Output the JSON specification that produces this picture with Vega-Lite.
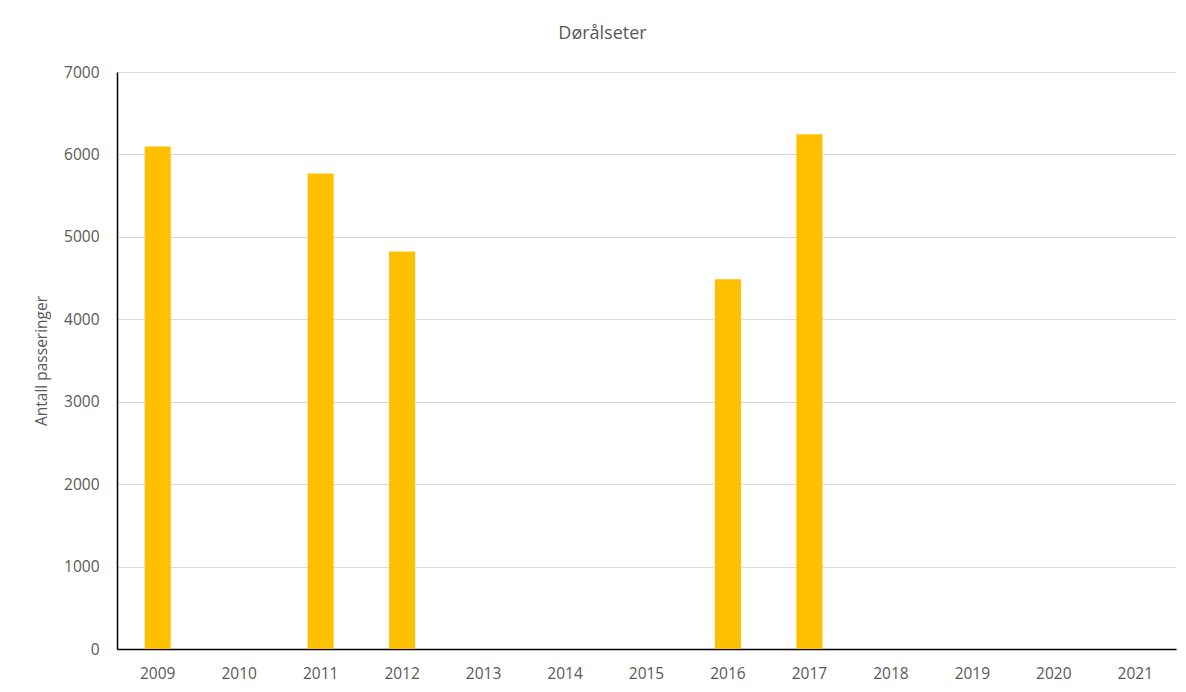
{
  "$schema": "https://vega.github.io/schema/vega-lite/v6.json",
  "autosize": "none",
  "width": 1059,
  "height": 577,
  "padding": {"left": 117, "top": 72, "right": 10, "bottom": 43},
  "background": "white",
  "title": {
    "text": "Dørålseter",
    "font": "Open Sans",
    "fontSize": 18,
    "fontWeight": "normal",
    "color": "#595959",
    "anchor": "middle",
    "dx": -44,
    "offset": 22
  },
  "data": {
    "values": [
      {"year": "2009", "value": 6095},
      {"year": "2010", "value": null},
      {"year": "2011", "value": 5768},
      {"year": "2012", "value": 4822},
      {"year": "2013", "value": null},
      {"year": "2014", "value": null},
      {"year": "2015", "value": null},
      {"year": "2016", "value": 4487},
      {"year": "2017", "value": 6245},
      {"year": "2018", "value": null},
      {"year": "2019", "value": null},
      {"year": "2020", "value": null},
      {"year": "2021", "value": null}
    ]
  },
  "mark": {"type": "bar", "color": "#FFC000"},
  "encoding": {
    "x": {
      "field": "year",
      "type": "ordinal",
      "scale": {
        "domain": ["2009", "2010", "2011", "2012", "2013", "2014", "2015", "2016", "2017", "2018", "2019", "2020", "2021"],
        "paddingInner": 0.68,
        "paddingOuter": 0.34
      },
      "axis": {
        "title": null,
        "labelAngle": 0,
        "ticks": false,
        "domainColor": "#000000",
        "domainWidth": 1.5,
        "labelPadding": 17,
        "labelFont": "Open Sans",
        "labelFontSize": 15.5,
        "labelColor": "#595959"
      }
    },
    "y": {
      "field": "value",
      "type": "quantitative",
      "scale": {"domain": [0, 7000], "nice": false},
      "axis": {
        "title": "Antall passeringer",
        "titleFont": "Open Sans",
        "titleFontSize": 15.5,
        "titleFontWeight": "normal",
        "titleColor": "#595959",
        "titlePadding": 14,
        "values": [0, 1000, 2000, 3000, 4000, 5000, 6000, 7000],
        "format": "d",
        "ticks": false,
        "domainColor": "#000000",
        "domainWidth": 1.5,
        "gridColor": "#d9d9d9",
        "gridWidth": 1.2,
        "labelPadding": 18,
        "labelFont": "Open Sans",
        "labelFontSize": 15.5,
        "labelColor": "#595959"
      }
    }
  },
  "config": {"view": {"stroke": null}}
}
